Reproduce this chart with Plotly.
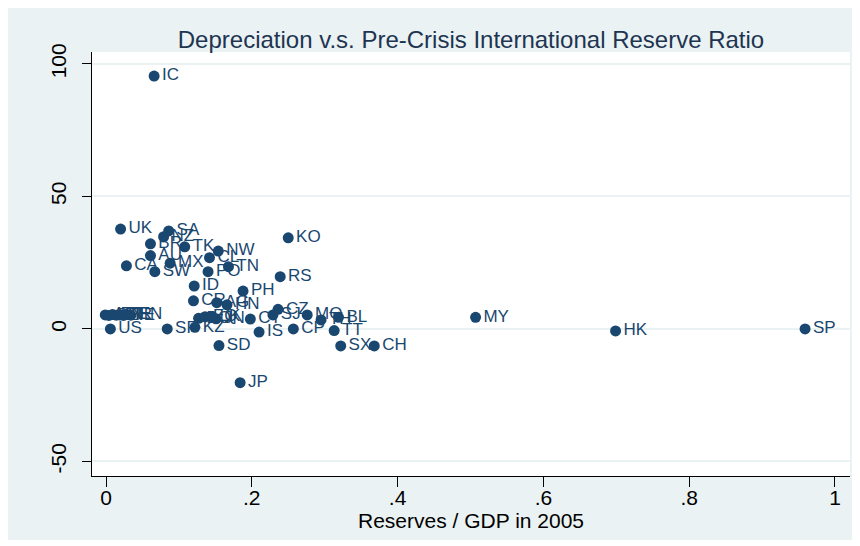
import plotly.graph_objects as go

# ---- data ----
codes = ["IC", "UK", "SA", "NZ", "BR", "TK", "NW", "AU", "CL", "MX", "CA", "TN", "SW", "PO",
         "KO", "RS", "ID", "PH", "CR", "AG", "HN", "CZ", "SJ", "MO", "TH", "BL", "CT",
         "BO", "EQ", "LK", "JN",
         "MY", "HK", "SP", "US", "SF", "KZ", "CP", "TT", "IS", "SD", "SX", "CH", "JP",
         "AS", "BE", "FR", "GE", "IT", "NE", "IR", "EN"]
reserves_gdp = [0.066, 0.020, 0.086, 0.079, 0.061, 0.108, 0.154, 0.061, 0.142, 0.088, 0.028, 0.168, 0.067, 0.140,
                0.250, 0.239, 0.121, 0.188, 0.120, 0.152, 0.166, 0.236, 0.229, 0.276, 0.295, 0.319, 0.198,
                0.127, 0.136, 0.145, 0.151,
                0.507, 0.699, 0.959, 0.006, 0.084, 0.122, 0.257, 0.313, 0.210, 0.155, 0.322, 0.368, 0.184,
                -0.001, 0.004, 0.009, 0.014, 0.019, 0.024, 0.029, 0.034]
depreciation = [95.4, 37.7, 37.0, 34.8, 32.1, 31.0, 29.4, 27.7, 26.9, 24.8, 23.8, 23.5, 21.6, 21.6,
                34.4, 19.7, 16.2, 14.3, 10.6, 9.9, 9.1, 7.4, 5.3, 5.3, 3.4, 4.4, 3.7,
                4.0, 4.6, 4.6, 3.8,
                4.4, -0.75, 0.0, 0.0, 0.0, 0.6, 0.0, -0.6, -1.2, -6.3, -6.4, -6.4, -20.3,
                5.3, 5.1, 5.4, 5.2, 5.3, 5.1, 5.4, 5.2]

x_ticks = [0, 0.2, 0.4, 0.6, 0.8, 1]
x_tick_labels = ["0", ".2", ".4", ".6", ".8", "1"]
y_ticks = [-50, 0, 50, 100]
y_tick_labels = ["-50", "0", "50", "100"]

NAVY = "#1a476f"
BG = "#eaf2f3"
FONT = "Liberation Sans, Arial, Helvetica, sans-serif"

# page body has an 8px margin, so the figure is drawn slightly smaller
W, H = 846, 532
ML, MR, MT, MB = 84, 4, 44, 64
pw = W - ML - MR

fig = go.Figure(go.Scatter(
    x=reserves_gdp, y=depreciation, mode="markers+text",
    text=codes, textposition="middle right",
    textfont=dict(family=FONT, size=17, color=NAVY),
    marker=dict(size=11, color=NAVY),
    cliponaxis=False, hoverinfo="skip",
))

fig.update_layout(
    width=W, height=H,
    margin=dict(l=ML, r=MR, t=MT, b=MB, autoexpand=False),
    paper_bgcolor=BG, plot_bgcolor="white",
    showlegend=False,
    font=dict(family=FONT, color=NAVY),
    title=dict(text="Depreciation v.s. Pre-Crisis International Reserve Ratio",
               x=(ML + pw / 2) / W, xanchor="center", y=1 - 32 / H, yanchor="middle",
               font=dict(family=FONT, size=24, color="#1e3552")),
    xaxis=dict(range=[-0.0192, 1.0206], tickvals=x_ticks, ticktext=x_tick_labels,
               showgrid=False, zeroline=False, showline=True, linecolor="black", linewidth=1,
               ticks="outside", ticklen=10, tickcolor="black", ticklabelstandoff=-7,
               tickfont=dict(family=FONT, size=21, color="black"),
               title=dict(text="Reserves / GDP in 2005", standoff=0,
                          font=dict(family=FONT, size=21, color="black"))),
    yaxis=dict(range=[-55.5, 104.5], tickvals=y_ticks, ticktext=y_tick_labels,
               showgrid=True, gridcolor=BG, gridwidth=1.5, zeroline=False,
               showline=True, linecolor="black", linewidth=1,
               ticks="outside", ticklen=9, tickcolor="black", tickangle=-90,
               ticklabelstandoff=8,
               tickfont=dict(family=FONT, size=21, color="black")),
)

fig.write_html("out.html")
